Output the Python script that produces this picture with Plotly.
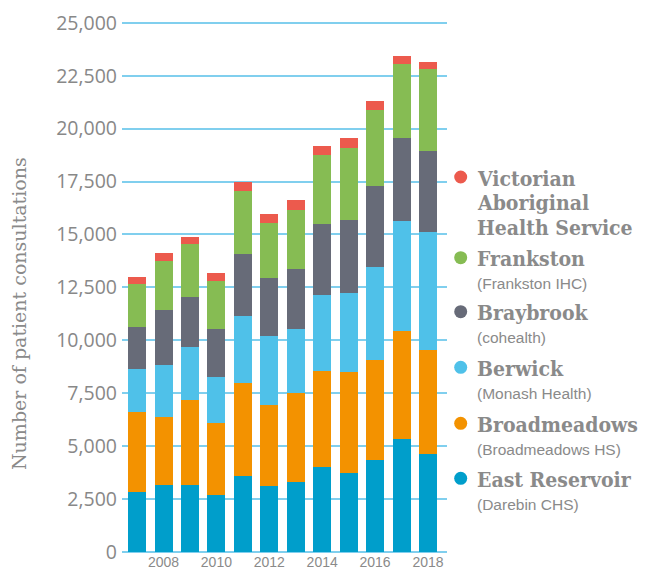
import plotly.graph_objects as go

years = [2007, 2008, 2009, 2010, 2011, 2012, 2013, 2014, 2015, 2016, 2017, 2018]
east_reservoir = [2850, 3180, 3180, 2700, 3570, 3130, 3320, 4020, 3740, 4350, 5340, 4640]
broadmeadows = [3750, 3220, 3990, 3410, 4390, 3800, 4180, 4530, 4750, 4700, 5100, 4900]
berwick = [2030, 2450, 2510, 2170, 3210, 3270, 3030, 3570, 3750, 4420, 5200, 5570]
braybrook = [2000, 2570, 2370, 2240, 2910, 2740, 2820, 3360, 3430, 3820, 3930, 3830]
frankston = [2030, 2340, 2490, 2290, 2990, 2610, 2800, 3270, 3410, 3570, 3470, 3870]
vahs = [330, 360, 330, 360, 410, 410, 470, 410, 460, 430, 410, 320]

series_names = ["East Reservoir", "Broadmeadows", "Berwick", "Braybrook", "Frankston",
                "Victorian Aboriginal Health Service"]
series_values = [east_reservoir, broadmeadows, berwick, braybrook, frankston, vahs]
colors = ["#009ecb", "#f39200", "#4fc1e9", "#676b78", "#86bc53", "#ec5a4d"]

y_ticks = [0, 2500, 5000, 7500, 10000, 12500, 15000, 17500, 20000, 22500, 25000]
x_ticks = [2008, 2010, 2012, 2014, 2016, 2018]

legend_titles = [["Victorian", "Aboriginal", "Health Service"], ["Frankston"], ["Braybrook"],
                 ["Berwick"], ["Broadmeadows"], ["East Reservoir"]]
legend_subs = [None, "(Frankston IHC)", "(cohealth)", "(Monash Health)",
               "(Broadmeadows HS)", "(Darebin CHS)"]
legend_colors = ["#ec5a4d", "#86bc53", "#676b78", "#4fc1e9", "#f39200", "#009ecb"]

OFF = 8  # page body margin
W, H = 638, 566
L, T = 122 - OFF, 20 - OFF
R = W - (447 - OFF)
B = H - (552 - OFF)
GRAY = "#8a8a8a"

fig = go.Figure()
for name, vals, col in zip(series_names, series_values, colors):
    fig.add_trace(go.Bar(x=years, y=vals, name=name, marker=dict(color=col, line=dict(width=0)),
                         showlegend=False))

def px(xp):
    return (xp - OFF - L) / (W - L - R)

def py(yp):
    return 1 - (yp - OFF - T) / (H - T - B)

annotations = []
shapes = []
head_y = [177, 257.7, 311.7, 367.3, 423.3, 478.3]
for i, (titles, sub, col) in enumerate(zip(legend_titles, legend_subs, legend_colors)):
    y0 = head_y[i]
    shapes.append(dict(type="circle", xref="paper", yref="paper", xsizemode="pixel", ysizemode="pixel",
                       xanchor=px(460.7), yanchor=py(y0), x0=-6.5, x1=6.5, y0=-6.5, y1=6.5,
                       fillcolor=col, line=dict(width=0)))
    for j, t in enumerate(titles):
        annotations.append(dict(text="<b>%s</b>" % t, xref="paper", yref="paper", x=px(475), y=py(y0 + 1 + 24.5 * j),
                                xanchor="left", yanchor="middle", showarrow=False,
                                font=dict(family="DejaVu Serif Condensed, DejaVu Serif", size=21, color=GRAY)))
    if sub:
        annotations.append(dict(text=sub, xref="paper", yref="paper", x=px(475), y=py(y0 + 26),
                                xanchor="left", yanchor="middle", showarrow=False,
                                font=dict(family="Liberation Sans", size=15.5, color=GRAY)))

annotations.append(dict(text="Number of patient consultations", textangle=-90, xref="paper", yref="paper",
                        x=px(19), y=py(314), xanchor="center", yanchor="middle", showarrow=False,
                        font=dict(family="DejaVu Serif", size=19, color=GRAY)))

fig.update_layout(
    barmode="stack",
    bargap=0.32,
    width=W, height=H,
    margin=dict(l=L, r=R, t=T, b=B, autoexpand=False),
    plot_bgcolor="white", paper_bgcolor="white",
    xaxis=dict(range=[2006.43, 2018.72], tickvals=x_ticks, ticktext=[str(v) for v in x_ticks],
               showgrid=False, zeroline=False, showline=False, ticks="", automargin=False,
               tickfont=dict(family="Liberation Sans", size=14, color=GRAY)),
    yaxis=dict(range=[0, 25130], tickvals=y_ticks, tickformat=",d", showgrid=True, automargin=False,
               gridcolor="#80cfee", gridwidth=1.6, zeroline=True, zerolinecolor="#80cfee", zerolinewidth=1.6,
               showline=False, ticks="", ticklabelstandoff=4,
               tickfont=dict(family="Open Sans", size=19.5, color="#888888")),
    annotations=annotations,
    shapes=shapes,
)

fig.write_html("out.html")
